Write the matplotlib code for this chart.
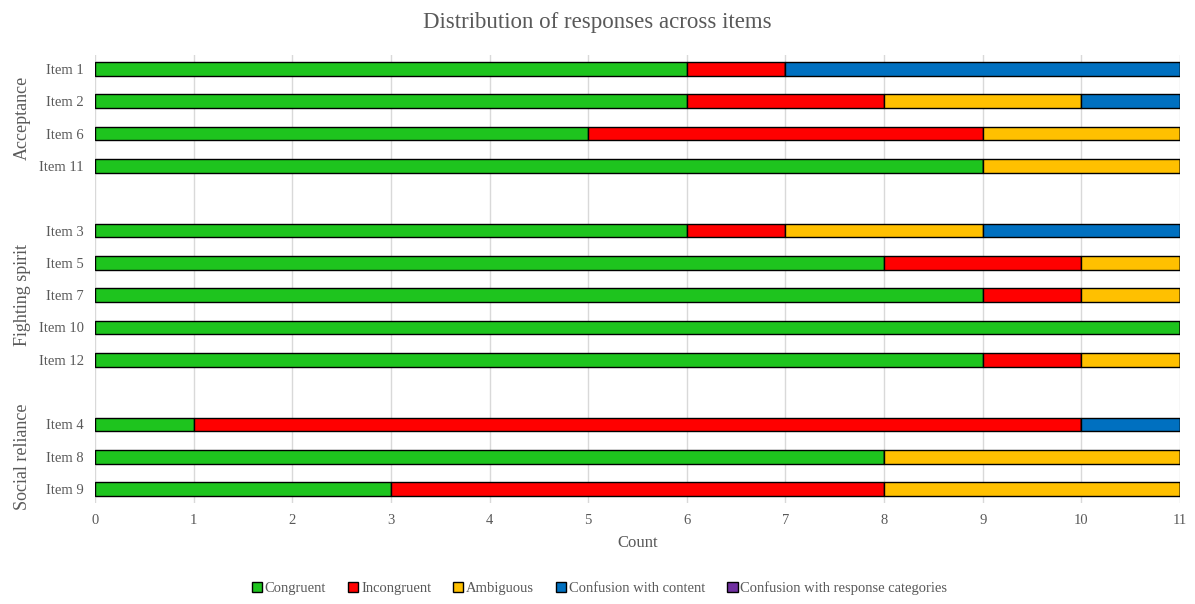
import numpy as np
import matplotlib.pyplot as plt

plt.rcParams['font.family'] = ['Liberation Serif', 'DejaVu Serif']

items = ["Item 1", "Item 2", "Item 6", "Item 11",
         "Item 3", "Item 5", "Item 7", "Item 10", "Item 12",
         "Item 4", "Item 8", "Item 9"]
groups = ["Acceptance", "Fighting spirit", "Social reliance"]
group_sizes = [4, 5, 3]

congruent = [6, 6, 5, 9, 6, 8, 9, 11, 9, 1, 8, 3]
incongruent = [1, 2, 4, 0, 1, 2, 1, 0, 1, 9, 0, 5]
ambiguous = [0, 2, 2, 2, 2, 1, 1, 0, 1, 0, 3, 3]
conf_content = [4, 1, 0, 0, 2, 0, 0, 0, 0, 1, 0, 0]
conf_response = [0, 0, 0, 0, 0, 0, 0, 0, 0, 0, 0, 0]

series = [
    ("Congruent", congruent, "#1ec41e"),
    ("Incongruent", incongruent, "#ff0000"),
    ("Ambiguous", ambiguous, "#ffc000"),
    ("Confusion with content", conf_content, "#0070c0"),
    ("Confusion with response categories", conf_response, "#7030a0"),
]

# row positions with one empty slot between groups
ypos = []
start = 0
for n in group_sizes:
    ypos += list(range(start, start + n))
    start += n + 1
ypos = np.array(ypos)

txt = "#595959"
fig = plt.figure(figsize=(11.95, 6.04), dpi=100)
ax = fig.add_axes([95 / 1195, 1 - 503 / 604, 1085 / 1195, 448 / 604])

left = np.zeros(len(items))
for name, vals, col in series:
    vals = np.array(vals, dtype=float)
    ax.barh(ypos, vals, left=left, height=0.43, color=col, edgecolor="black",
            linewidth=1, label=name, zorder=3)
    left += vals

ax.set_xlim(0, 11)
ax.set_ylim(ypos[-1] + 0.43, ypos[0] - 0.43)
ax.set_xticks(range(12))
ax.set_yticks(ypos)
ax.set_yticklabels(items)
ax.tick_params(length=0, labelsize=10.5, colors=txt, pad=8)
ax.grid(axis="x", color="#d9d9d9", linewidth=1, zorder=0)
for s in ax.spines.values():
    s.set_visible(False)

ax.set_xlabel("Count", fontsize=12, color=txt, labelpad=6)

# group labels
start = 0
for g, n in zip(groups, group_sizes):
    rows = ypos[start:start + n]
    yc = (rows[0] + rows[-1]) / 2
    ax.text(-0.067, yc, g, rotation=90, ha="center", va="center",
            fontsize=13, color=txt, transform=ax.get_yaxis_transform())
    start += n

fig.suptitle("Distribution of responses across items", fontsize=16.5, color=txt, y=0.98)

leg = ax.legend(loc="center", bbox_to_anchor=(0.465, -0.19), ncol=5, frameon=False,
                fontsize=10.5, handlelength=0.7, handleheight=0.7, handletextpad=0.2,
                columnspacing=1.5, labelcolor=txt)

fig.savefig("out.png", dpi=100)
